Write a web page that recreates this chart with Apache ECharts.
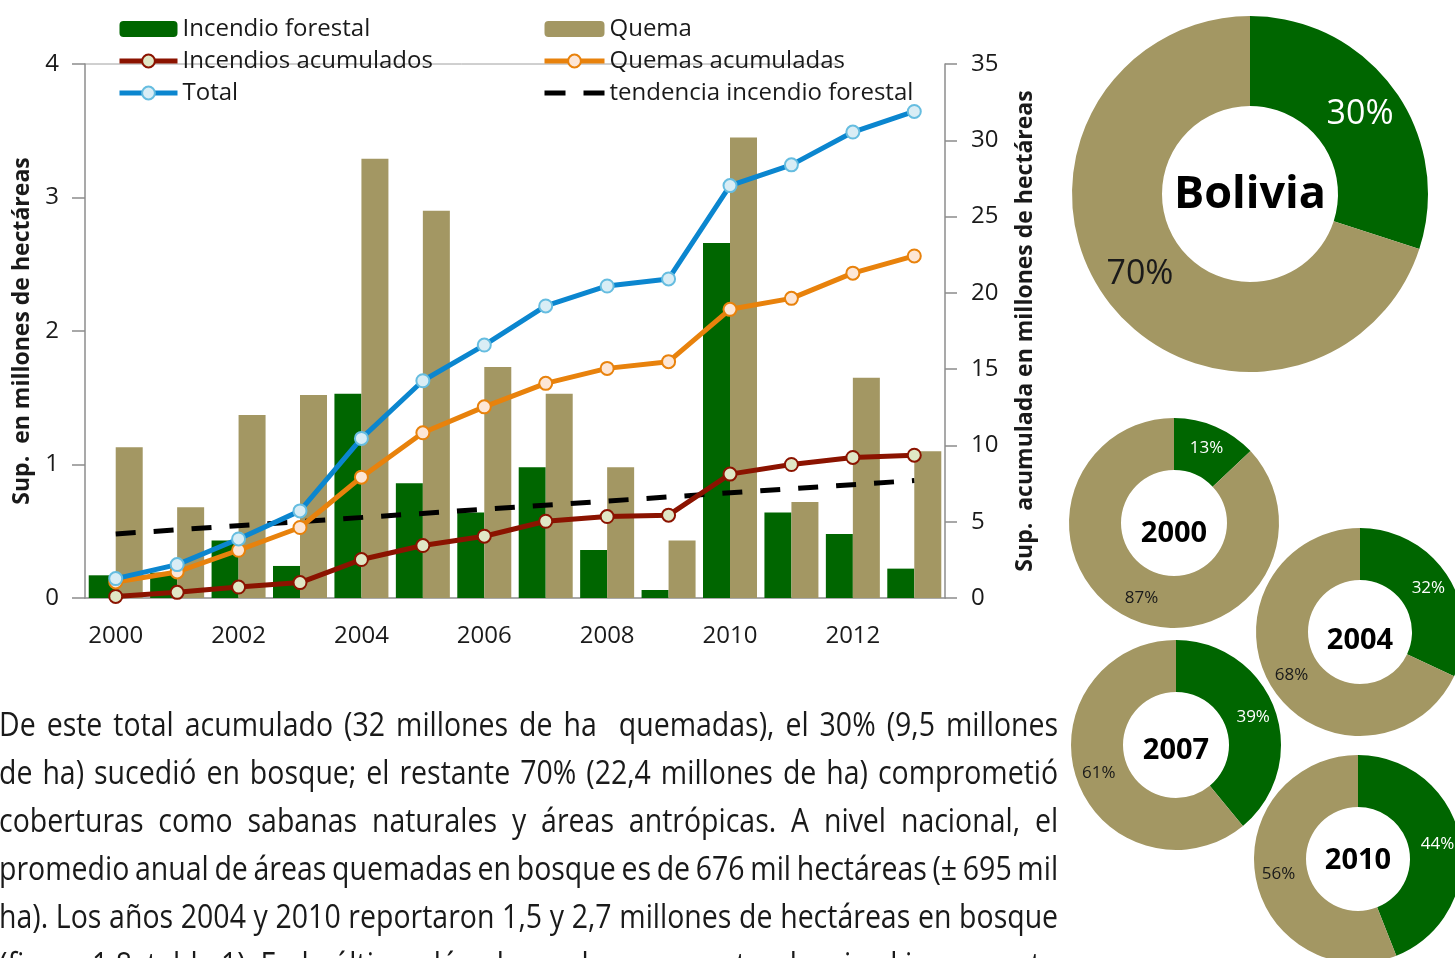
<!DOCTYPE html>
<html>
<head>
<meta charset="utf-8">
<script src="https://cdn.jsdelivr.net/npm/echarts@6/dist/echarts.min.js"></script>
<style>
    html, body { margin: 0; padding: 0; background: #fff; overflow: hidden; }
    #myEcharts { position: absolute; left: 0; top: 0; width: 1455px; height: 958px; }
    .texto { position: absolute; left: -1px; top: 700px; width: 1190px;
             transform: scaleX(0.89); transform-origin: 0 0;
             font-family: "Open Sans", sans-serif;
             font-size: 32px; word-spacing: -3px; color: #1a1a1a; }
    .texto div { height: 48px; line-height: 48px; overflow: hidden;
                 text-align: justify; text-align-last: justify; }
</style>
</head>
<body>
<div id="myEcharts"></div>
<div class="texto">
    <div>De este total acumulado (32 millones de ha&nbsp; quemadas), el 30% (9,5 millones</div>
    <div>de ha) sucedió en bosque; el restante 70% (22,4 millones de ha) comprometió</div>
    <div>coberturas como sabanas naturales y áreas antrópicas. A nivel nacional, el</div>
    <div>promedio anual de áreas quemadas en bosque es de 676 mil hectáreas (± 695 mil</div>
    <div>ha). Los años 2004 y 2010 reportaron 1,5 y 2,7 millones de hectáreas en bosque</div>
    <div>(figura 1.8, tabla 1). En la última década se observa una tendencia al incremento</div>
</div>
<script>
// años
const years = ['2000', '2001', '2002', '2003', '2004', '2005', '2006', '2007', '2008', '2009', '2010', '2011', '2012', '2013'];
// millones de ha por año (eje izquierdo)
const incendioForestal = [0.17, 0.19, 0.43, 0.24, 1.53, 0.86, 0.64, 0.98, 0.36, 0.06, 2.66, 0.64, 0.48, 0.22];
const quema = [1.13, 0.68, 1.37, 1.52, 3.29, 2.90, 1.73, 1.53, 0.98, 0.43, 3.45, 0.72, 1.65, 1.10];
// acumulados (eje derecho)
const incendiosAcum = [0.1, 0.37, 0.72, 1.01, 2.52, 3.44, 4.05, 5.03, 5.34, 5.43, 8.12, 8.75, 9.21, 9.36];
const quemasAcum = [1.05, 1.71, 3.13, 4.62, 7.92, 10.83, 12.53, 14.07, 15.05, 15.49, 18.92, 19.64, 21.29, 22.42];
const total = [1.27, 2.19, 3.87, 5.71, 10.46, 14.24, 16.58, 19.14, 20.45, 20.91, 27.03, 28.39, 30.54, 31.89];
// tendencia: extremos leídos, recta entre ellos
const tendencia = [0.48, null, null, null, null, null, null, null, null, null, null, null, null, 0.88];

// donas: % bosque / % otras coberturas
const donaNombres = ['Bolivia', '2000', '2004', '2007', '2010'];
const donaBosque = [30, 13, 32, 39, 44];
const donaOtros = [70, 87, 68, 61, 56];

const VERDE = '#006600';
const CAFE = '#a39763';
const FONT = 'Open Sans';

let myChart = echarts.init(document.getElementById('myEcharts'));

// posición y tamaño de cada dona (dy: desplazamiento del rótulo central)
const donaLayout = [
    { c: [1250, 194], r: [88, 178], f: 34, t: 45, dy: 1 },
    { c: [1174, 523], r: [53, 105], f: 17, t: 29, dy: 11 },
    { c: [1360, 632], r: [52, 104], f: 17, t: 29, dy: 9 },
    { c: [1176, 745], r: [53, 105], f: 17, t: 29, dy: 6 },
    { c: [1358, 859], r: [52, 104], f: 17, t: 29, dy: 2 }
];

const pies = [];
const etiquetas = [];
donaNombres.forEach(function (nombre, idx) {
    const l = donaLayout[idx];
    pies.push({
        type: 'pie',
        center: l.c,
        radius: l.r,
        startAngle: 90,
        clockwise: true,
        silent: true,
        label: { show: true, position: 'inside', formatter: '{c}%', fontFamily: FONT, fontSize: l.f },
        labelLine: { show: false },
        data: [
            { name: 'bosque', value: donaBosque[idx], itemStyle: { color: VERDE }, label: { color: '#fff' } },
            { name: 'otros', value: donaOtros[idx], itemStyle: { color: CAFE }, label: { color: '#1a1a1a' } }
        ]
    });
    etiquetas.push({
        type: 'text', x: l.c[0], y: l.c[1] + l.dy,
        style: { text: nombre, align: 'center', verticalAlign: 'middle', fill: '#000',
                 font: 'bold ' + l.t + 'px "' + FONT + '"' }
    });
});

const ejeColor = '#8c8c8c';
const textoColor = '#1a1a1a';
const legendText = { fontFamily: FONT, fontSize: 24, color: textoColor, lineHeight: 24 };

let option = {
    animation: false,
    legend: [
        {
            orient: 'vertical', left: 117, top: 17, padding: 0, itemWidth: 58, itemHeight: 16, itemGap: 8,
            textStyle: legendText,
            data: [
                { name: 'Incendio forestal' },
                { name: 'Incendios acumulados', lineStyle: { width: 5 } },
                { name: 'Total', lineStyle: { width: 5 } }
            ]
        },
        {
            orient: 'vertical', left: 542, top: 17, padding: 0, itemWidth: 60, itemHeight: 16, itemGap: 8,
            textStyle: legendText,
            data: [
                { name: 'Quema' },
                { name: 'Quemas acumuladas', lineStyle: { width: 5 } },
                {
                    name: 'tendencia incendio forestal',
                    lineStyle: { width: 5, type: [21, 18] },
                    itemStyle: { color: 'rgba(0,0,0,0)', borderColor: 'rgba(0,0,0,0)', borderWidth: 0 }
                }
            ]
        }
    ],
    grid: { left: 85, right: 510, top: 64, bottom: 360 },
    xAxis: {
        type: 'category',
        data: years,
        axisLine: { lineStyle: { color: ejeColor, width: 1.5 } },
        axisTick: { interval: 0, length: 8, lineStyle: { color: ejeColor, width: 1.5 } },
        axisLabel: { interval: 1, margin: 26, fontFamily: FONT, fontSize: 24, color: textoColor }
    },
    yAxis: [
        {
            type: 'value', min: 0, max: 4, interval: 1,
            name: 'Sup.  en millones de hectáreas', nameLocation: 'middle', nameRotate: 90, nameGap: 49,
            nameTextStyle: { fontFamily: FONT, fontSize: 23, fontWeight: 'bold', color: textoColor },
            splitLine: { show: false },
            axisLine: { show: true, lineStyle: { color: ejeColor, width: 1.5 } },
            axisTick: { show: true, length: 13, lineStyle: { color: ejeColor, width: 1.5 } },
            axisLabel: { margin: 26, fontFamily: FONT, fontSize: 24, color: textoColor }
        },
        {
            type: 'value', min: 0, max: 35, interval: 5, position: 'right',
            name: 'Sup.  acumulada en millones de hectáreas', nameLocation: 'middle', nameRotate: 90, nameGap: 69,
            nameTextStyle: { fontFamily: FONT, fontSize: 23, fontWeight: 'bold', color: textoColor },
            splitLine: { show: false },
            axisLine: { show: true, lineStyle: { color: ejeColor, width: 1.5 } },
            axisTick: { show: true, length: 12, lineStyle: { color: ejeColor, width: 1.5 } },
            axisLabel: { margin: 26, fontFamily: FONT, fontSize: 24, color: textoColor }
        }
    ],
    series: [
        {
            name: 'Incendio forestal', type: 'bar', yAxisIndex: 0, data: incendioForestal,
            barWidth: 27, barGap: '0%', itemStyle: { color: VERDE }
        },
        {
            name: 'Quema', type: 'bar', yAxisIndex: 0, data: quema,
            barWidth: 27, barGap: '0%', itemStyle: { color: CAFE }
        },
        {
            name: 'tendencia incendio forestal', type: 'line', yAxisIndex: 0, data: tendencia,
            connectNulls: true, symbol: 'none',
            lineStyle: { color: '#000', width: 5, type: [20, 18] },
            itemStyle: { color: '#000' }
        },
        {
            name: 'Incendios acumulados', type: 'line', yAxisIndex: 1, data: incendiosAcum,
            symbol: 'circle', symbolSize: 13,
            lineStyle: { color: '#8b1300', width: 5 },
            itemStyle: { color: '#e0e7c6', borderColor: '#8b1300', borderWidth: 2 }
        },
        {
            name: 'Quemas acumuladas', type: 'line', yAxisIndex: 1, data: quemasAcum,
            symbol: 'circle', symbolSize: 13,
            lineStyle: { color: '#e8820c', width: 5 },
            itemStyle: { color: '#fde6d6', borderColor: '#e8820c', borderWidth: 2 }
        },
        {
            name: 'Total', type: 'line', yAxisIndex: 1, data: total,
            symbol: 'circle', symbolSize: 13,
            lineStyle: { color: '#0b86cf', width: 5 },
            itemStyle: { color: '#d9edf5', borderColor: '#66bde0', borderWidth: 2 }
        }
    ].concat(pies),
    graphic: [
        {
            type: 'line', silent: true,
            shape: { x1: 85, y1: 64, x2: 838, y2: 64 },
            style: { stroke: '#a0a0a0', lineWidth: 1 }
        }
    ].concat(etiquetas)
};

option && myChart.setOption(option);
</script>
</body>
</html>
